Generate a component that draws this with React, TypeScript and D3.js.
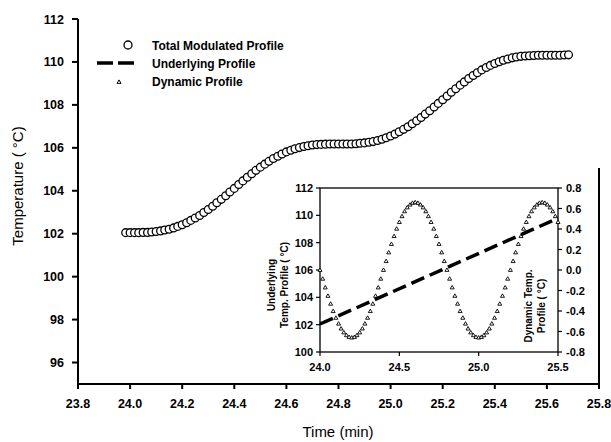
import React from "react";
import * as d3 from "d3";

// ---- data ----
const totalTime = [23.983,
  24, 24.017, 24.033, 24.05, 24.067, 24.083,
  24.1, 24.117, 24.133, 24.15, 24.167, 24.183,
  24.2, 24.217, 24.233, 24.25, 24.267, 24.283,
  24.3, 24.317, 24.333, 24.35, 24.367, 24.383,
  24.4, 24.417, 24.433, 24.45, 24.467, 24.483,
  24.5, 24.517, 24.533, 24.55, 24.567, 24.583,
  24.6, 24.617, 24.633, 24.65, 24.667, 24.683,
  24.7, 24.717, 24.733, 24.75, 24.767, 24.783,
  24.8, 24.817, 24.833, 24.85, 24.867, 24.883,
  24.9, 24.917, 24.933, 24.95, 24.967, 24.983,
  25, 25.017, 25.033, 25.05, 25.067, 25.083,
  25.1, 25.117, 25.133, 25.15, 25.167, 25.183,
  25.2, 25.217, 25.233, 25.25, 25.267, 25.283,
  25.3, 25.317, 25.333, 25.35, 25.367, 25.383,
  25.4, 25.417, 25.433, 25.45, 25.467, 25.483,
  25.5, 25.517, 25.533, 25.55, 25.567, 25.583,
  25.6, 25.617, 25.633, 25.65, 25.667, 25.683];

const totalTemp = [102.05,
  102.05, 102.05, 102.05, 102.06, 102.06, 102.08,
  102.10, 102.13, 102.17, 102.21, 102.27, 102.34,
  102.42, 102.51, 102.62, 102.73, 102.85, 102.99,
  103.13, 103.28, 103.44, 103.60, 103.77, 103.94,
  104.11, 104.29, 104.46, 104.63, 104.79, 104.95,
  105.10, 105.24, 105.37, 105.50, 105.61, 105.71,
  105.81, 105.89, 105.96, 106.01, 106.06, 106.10,
  106.13, 106.15, 106.16, 106.17, 106.18, 106.18,
  106.18, 106.18, 106.18, 106.18, 106.19, 106.21,
  106.23, 106.26, 106.29, 106.34, 106.40, 106.47,
  106.55, 106.64, 106.75, 106.86, 106.98, 107.12,
  107.26, 107.41, 107.57, 107.73, 107.90, 108.07,
  108.24, 108.41, 108.59, 108.75, 108.92, 109.07,
  109.23, 109.37, 109.50, 109.63, 109.74, 109.84,
  109.93, 110.01, 110.08, 110.14, 110.19, 110.23,
  110.26, 110.28, 110.29, 110.30, 110.31, 110.31,
  110.31, 110.31, 110.31, 110.31, 110.32, 110.33];

const dynamicTime = totalTime.slice(1, 92);
const dynamicTemp = [
  0, -0.086, -0.171, -0.253, -0.330, -0.402, -0.467, -0.524, -0.572, -0.610, -0.637, -0.654,
  -0.660, -0.654, -0.637, -0.610, -0.572, -0.524, -0.467, -0.402, -0.330, -0.253, -0.171, -0.086,
  0, 0.086, 0.171, 0.253, 0.330, 0.402, 0.467, 0.524, 0.572, 0.610, 0.637, 0.654,
  0.660, 0.654, 0.637, 0.610, 0.572, 0.524, 0.467, 0.402, 0.330, 0.253, 0.171, 0.086,
  0, -0.086, -0.171, -0.253, -0.330, -0.402, -0.467, -0.524, -0.572, -0.610, -0.637, -0.654,
  -0.660, -0.654, -0.637, -0.610, -0.572, -0.524, -0.467, -0.402, -0.330, -0.253, -0.171, -0.086,
  0, 0.086, 0.171, 0.253, 0.330, 0.402, 0.467, 0.524, 0.572, 0.610, 0.637, 0.654,
  0.660, 0.654, 0.637, 0.610, 0.572, 0.524, 0.467];

const underlyingTime = [24.0, 25.5];
const underlyingTemp = [102.05, 109.79];

const mainXTicks = [23.8, 24.0, 24.2, 24.4, 24.6, 24.8, 25.0, 25.2, 25.4, 25.6, 25.8];
const mainYTicks = [96, 98, 100, 102, 104, 106, 108, 110, 112];
const insetXTicks = [24.0, 24.5, 25.0, 25.5];
const insetLeftTicks = [100, 102, 104, 106, 108, 110, 112];
const insetRightTicks = [-0.8, -0.6, -0.4, -0.2, 0.0, 0.2, 0.4, 0.6, 0.8];

const legendLabels = ["Total Modulated Profile", "Underlying Profile", "Dynamic Profile"];

const FONT = "'Liberation Sans', Arial, Helvetica, sans-serif";

function tri(cx: number, cy: number, s: number) {
  const h = s * 0.866;
  return `M${cx},${cy - h * 0.6}L${cx + s / 2},${cy + h * 0.4}L${cx - s / 2},${cy + h * 0.4}Z`;
}

export default function App() {
  // main scales
  const x = d3.scaleLinear().domain([23.8, 25.8]).range([78, 599]);
  const y = d3.scaleLinear().domain([95, 112]).range([384, 19]);
  // inset scales
  const ix = d3.scaleLinear().domain([24.0, 25.5]).range([320, 558]);
  const iyL = d3.scaleLinear().domain([100, 112]).range([352, 188]);
  const iyR = d3.scaleLinear().domain([-0.8, 0.8]).range([352, 188]);

  const underlyingLine = d3
    .line<number>()
    .x((_, i) => ix(underlyingTime[i]))
    .y((d) => iyL(d));

  return (
    <svg
      width={611}
      height={442}
      style={{ position: "absolute", left: 0, top: 0, background: "#fff" }}
      fontFamily={FONT}
    >
      <rect x={0} y={0} width={611} height={442} fill="#fff" />

      {/* main axes */}
      <line x1={78} x2={78} y1={19} y2={384} stroke="#000" strokeWidth={2} />
      <line x1={77} x2={600} y1={384} y2={384} stroke="#000" strokeWidth={2} />
      <line x1={599} x2={599} y1={168} y2={385} stroke="#000" strokeWidth={2} />
      {mainXTicks.map((t) => (
        <g key={"mx" + t}>
          <line x1={x(t)} x2={x(t)} y1={384} y2={389} stroke="#000" strokeWidth={2} />
          <text x={x(t)} y={408} textAnchor="middle" fontSize={12.5} fontWeight="bold">
            {t.toFixed(1)}
          </text>
        </g>
      ))}
      {mainYTicks.map((t) => (
        <g key={"my" + t}>
          <line x1={72} x2={78} y1={y(t)} y2={y(t)} stroke="#000" strokeWidth={2} />
          <text x={64} y={y(t) + 4.5} textAnchor="end" fontSize={12.5} fontWeight="bold">
            {t}
          </text>
        </g>
      ))}
      <text x={338} y={437} textAnchor="middle" fontSize={15}>
        Time (min)
      </text>
      <text
        transform={`translate(23,${186}) rotate(-90)`}
        textAnchor="middle"
        fontSize={15}
      >
        Temperature (  °C)
      </text>

      {/* main total modulated profile */}
      {totalTemp.map((v, i) => (
        <circle
          key={"c" + i}
          cx={x(totalTime[i])}
          cy={y(v)}
          r={3.9}
          fill="#fff"
          stroke="#000"
          strokeWidth={1.3}
        />
      ))}

      {/* legend */}
      <circle cx={128} cy={45} r={4} fill="#fff" stroke="#000" strokeWidth={1.3} />
      <text x={152} y={49.5} fontSize={12} fontWeight="bold">{legendLabels[0]}</text>
      <line x1={97} x2={134} y1={63} y2={63} stroke="#000" strokeWidth={3.5} strokeDasharray="16 5" />
      <text x={152} y={67.5} fontSize={12} fontWeight="bold">{legendLabels[1]}</text>
      <path d={tri(119, 82, 4)} fill="#fff" stroke="#000" strokeWidth={1} />
      <text x={152} y={86} fontSize={12} fontWeight="bold">{legendLabels[2]}</text>

      {/* inset frame */}
      <rect x={320} y={188} width={238} height={164} fill="none" stroke="#000" strokeWidth={1.3} />
      {insetXTicks.map((t) => (
        <g key={"ix" + t}>
          <line x1={ix(t)} x2={ix(t)} y1={352} y2={356} stroke="#000" strokeWidth={1.2} />
          <text x={ix(t)} y={371} textAnchor="middle" fontSize={11} fontWeight="bold">
            {t.toFixed(1)}
          </text>
        </g>
      ))}
      {insetLeftTicks.map((t) => (
        <g key={"il" + t}>
          <line x1={316} x2={320} y1={iyL(t)} y2={iyL(t)} stroke="#000" strokeWidth={1.2} />
          <text x={313} y={iyL(t) + 4} textAnchor="end" fontSize={11} fontWeight="bold">
            {t}
          </text>
        </g>
      ))}
      {insetRightTicks.map((t) => (
        <g key={"ir" + t}>
          <line x1={558} x2={562} y1={iyR(t)} y2={iyR(t)} stroke="#000" strokeWidth={1.2} />
          <text x={566} y={iyR(t) + 4} textAnchor="start" fontSize={11} fontWeight="bold">
            {t.toFixed(1)}
          </text>
        </g>
      ))}
      <text transform="translate(275,285) rotate(-90)" textAnchor="middle" fontSize={10} fontWeight="bold">
        Underlying
      </text>
      <text transform="translate(288,285) rotate(-90)" textAnchor="middle" fontSize={10} fontWeight="bold">
        Temp. Profile (  °C)
      </text>
      <text transform="translate(532,306) rotate(-90)" textAnchor="middle" fontSize={10} fontWeight="bold">
        Dynamic Temp.
      </text>
      <text transform="translate(545,306) rotate(-90)" textAnchor="middle" fontSize={10} fontWeight="bold">
        Profile ( °C)
      </text>

      {/* inset data */}
      {dynamicTemp.map((v, i) => (
        <path key={"t" + i} d={tri(ix(dynamicTime[i]), iyR(v), 4)} fill="#fff" stroke="#000" strokeWidth={0.9} />
      ))}
      <path
        d={underlyingLine(underlyingTemp) || ""}
        fill="none"
        stroke="#000"
        strokeWidth={3.5}
        strokeDasharray="14 6"
      />
    </svg>
  );
}
